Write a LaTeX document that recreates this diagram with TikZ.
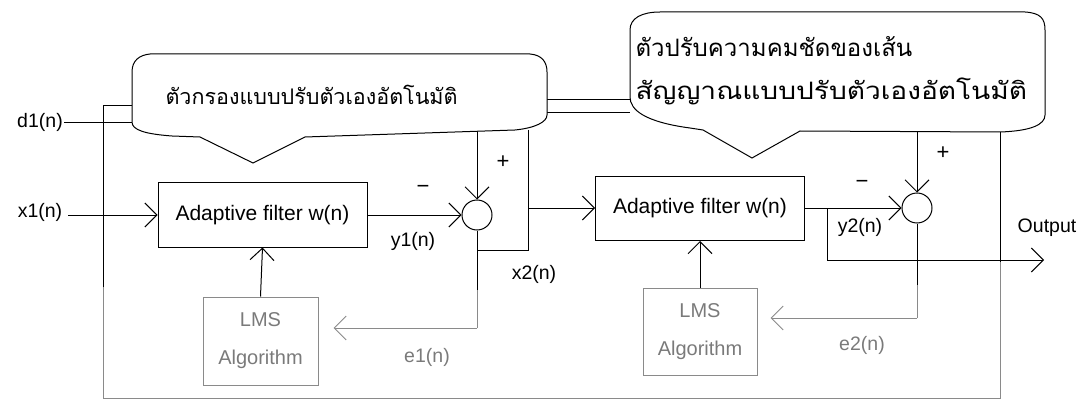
\documentclass[tikz,border=0pt]{standalone}
\usepackage{fontspec}
\setmainfont{Liberation Sans}
\newfontfamily\thaifont[Script=Thai]{Loma}
\usetikzlibrary{arrows.meta}
\definecolor{lgrey}{HTML}{8A8A8A}
\definecolor{tgrey}{HTML}{7A7A7A}
\begin{document}
\begin{tikzpicture}[x=1pt,y=-1pt,
  line width=1pt,
  arr/.style={-{Straight Barb[length=12pt,width=24pt,line width=1pt]}},
  fbox/.style={draw,rectangle,minimum width=209pt,minimum height=64pt,inner sep=0pt,font=\fontsize{21}{24}\selectfont},
  lbox/.style={draw=lgrey,text=tgrey,rectangle,minimum width=115pt,minimum height=88pt,inner sep=0pt,align=center,font=\fontsize{20}{24}\selectfont},
  sumc/.style={draw,circle,minimum size=30pt,inner sep=0pt},
  lbl/.style={font=\fontsize{19.5}{22}\selectfont,inner sep=0pt},
  glbl/.style={font=\fontsize{19.5}{22}\selectfont,inner sep=0pt,text=tgrey},
  sgn/.style={font=\fontsize{22}{22}\selectfont,inner sep=0pt},
  thai/.style={font=\thaifont\fontsize{21.5}{26}\selectfont,inner sep=0pt},
  thaib/.style={font=\thaifont\fontsize{24}{28}\selectfont,inner sep=0pt}
]
\useasboundingbox (0,0) rectangle (1082,401);
% nodes
\node[fbox] (f1) at (262.5,215) {Adaptive filter w(n)};
\node[fbox] (f2) at (700,208.5) {Adaptive filter w(n)};
\node[sumc] (s1) at (477,215) {};
\node[sumc] (s2) at (917,208) {};
\node[lbox] (l1) at (260.5,341) {LMS\\[14pt]Algorithm};
\node[lbox,minimum height=87pt,minimum width=114pt] (l2) at (700,331.5) {LMS\\[14pt]Algorithm};
% labels
\node[lbl] (d1) at (40,122) {d1(n)};
\node[lbl] (x1) at (40,212) {x1(n)};
\node[lbl] (y1) at (413,241) {y1(n)};
\node[lbl] (x2) at (534,274) {x2(n)};
\node[lbl] (y2) at (860,227) {y2(n)};
\node[lbl] (out) at (1047,228) {Output};
\node[glbl] (e1) at (427,357) {e1(n)};
\node[glbl] (e2) at (862,345) {e2(n)};
\node[sgn] (m1) at (423,189) {−};
\node[sgn] (p1) at (503,162) {+};
\node[sgn] (m2) at (862,184) {−};
\node[sgn] (p2) at (943,153) {+};
% coordinates
\coordinate (x1s) at (68,215);
\coordinate (d1s) at (64,123);
\coordinate (d1e) at (132,123);
\coordinate (c1b) at (477,131);
\coordinate (v1t) at (528,130);
\coordinate (v1m) at (528,208);
\coordinate (v1b) at (528,250);
\coordinate (s1m) at (477,250);
\coordinate (s1g) at (477,290);
\coordinate (e1c) at (477,328);
\coordinate (c2b) at (917,132);
\coordinate (o1) at (827,208);
\coordinate (o2) at (827,260);
\coordinate (o3) at (1044,260);
\coordinate (s2g) at (917,285);
\coordinate (e2c) at (917,318);
\coordinate (r1) at (1000,132);
\coordinate (r2) at (1000,262);
\coordinate (r3) at (1000,398);
\coordinate (lb) at (103,398);
\coordinate (lg) at (103,287);
\coordinate (lt) at (103,106);
\coordinate (lte) at (132,106);
\coordinate (m1a) at (547,100);
\coordinate (m1b) at (630,100);
\coordinate (m2a) at (547,113);
\coordinate (m2b) at (630,113);
% connectors
\draw[arr] (x1s) -- (f1.west);
\draw (d1s) -- (d1e);
\draw[arr] (f1.east |- s1.west) -- (s1.west);
\draw[arr] (c1b) -- (s1.north);
\draw (v1t) -- (v1b) -- (s1m);
\draw (s1.south) -- (s1g);
\draw[lgrey] (s1g) -- (e1c);
\draw[lgrey,arr,shorten >=15pt] (e1c) -- (e1c -| l1.east);
\draw[arr] (l1.north) -- (f1.south);
\draw[arr] (v1m) -- (f2.west |- v1m);
\draw[arr] (f2.east |- s2.west) -- (s2.west);
\draw[arr] (c2b) -- (s2.north);
\draw[arr] (o1) -- (o2) -- (o3);
\draw (s2.south) -- (s2g);
\draw[lgrey] (s2g) -- (e2c);
\draw[lgrey,arr,shorten >=13pt] (e2c) -- (e2c -| l2.east);
\draw[arr] (l2.north) -- (f2.south);
\draw (r1) -- (r2);
\draw[lgrey] (r2) -- (r3) -- (lb) -- (lg);
\draw (lg) -- (lt) -- (lte);
\draw (m1a) -- (m1b);
\draw (m2a) -- (m2b);
% callouts
\draw[fill=white] (150,54) -- (530,54) .. controls (542,55) and (547,62) .. (547,72) -- (547,115)
  .. controls (547,122) and (535,128) .. (515,130) -- (305,137) -- (253,163) -- (200,137) -- (172,136)
  .. controls (145,134) and (132,130) .. (132,122) -- (132,72) .. controls (132,60) and (140,55) .. (150,54) -- cycle;
\draw[fill=white] (660,12) -- (1025,12) .. controls (1040,13) and (1045,18) .. (1045,30) -- (1045,115)
  .. controls (1045,125) and (1030,131) .. (1000,132) -- (800,131) -- (752,158) -- (703,130) -- (690,128)
  .. controls (645,122) and (630,110) .. (630,97) -- (630,30) .. controls (630,18) and (642,12) .. (660,12) -- cycle;
\node[thai,anchor=west] (t1) at (165,95) {ตัวกรองแบบปรับตัวเองอัตโนมัติ};
\node[thaib,anchor=west] (t2) at (635,47) {ตัวปรับความคมชัดของเส้น};
\node[thaib,anchor=west] (t3) at (635,91) {\scalebox{1.17}[1]{สัญญาณแบบปรับตัวเองอัตโนมัติ}};
\end{tikzpicture}
\end{document}
